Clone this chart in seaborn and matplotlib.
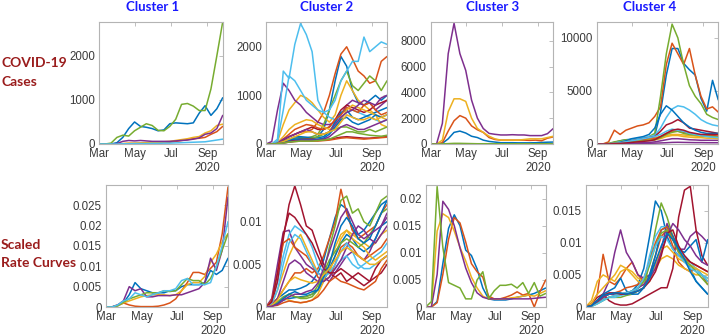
import matplotlib
matplotlib.use('Agg')
import numpy as np
import pandas as pd
import matplotlib.pyplot as plt
import matplotlib.dates as mdates
import seaborn as sns
from matplotlib.transforms import blended_transform_factory

# sample dates: every 10 days from Mar 1 2020
dates = pd.date_range('2020-03-01', periods=22, freq='10D')

cluster_names = ['Cluster 1', 'Cluster 2', 'Cluster 3', 'Cluster 4']
row_names = [['COVID-19', 'Cases'], ['Scaled', 'Rate Curves']]
month_ticks = ['2020-03-01', '2020-05-01', '2020-07-01', '2020-09-01']
month_labels = ['Mar', 'May', 'Jul', 'Sep']

# ---- COVID-19 cases (7-day avg), one list per county, in MATLAB colour order
c1_cases = [
    [0, 0, 0, 30, 150, 350, 500, 400, 380, 350, 300, 320, 460, 480, 470, 460, 480, 700, 870, 650, 800, 1050],
    [0, 0, 0, 0, 5, 10, 10, 15, 20, 25, 30, 35, 40, 60, 80, 100, 120, 130, 150, 220, 280, 400],
    [0, 0, 0, 5, 10, 20, 20, 25, 30, 35, 40, 50, 60, 80, 100, 120, 150, 170, 250, 300, 420, 450],
    [0, 0, 0, 10, 60, 80, 70, 80, 70, 60, 60, 60, 60, 70, 80, 90, 110, 140, 220, 250, 350, 650],
    [0, 0, 20, 150, 200, 180, 300, 380, 460, 420, 310, 300, 400, 560, 900, 920, 860, 760, 760, 1250, 2000, 2770],
    [0, 0, 0, 0, 5, 5, 10, 10, 10, 15, 15, 20, 20, 25, 30, 35, 40, 45, 50, 70, 90, 110],
]
c2_cases = [
    [0, 0, 20, 60, 100, 120, 130, 120, 110, 150, 300, 700, 1300, 1800, 1600, 1100, 850, 800, 900, 1000, 900, 1000],
    [0, 0, 30, 100, 150, 200, 250, 250, 300, 450, 650, 1000, 1450, 1850, 2000, 1750, 1500, 1400, 1250, 1300, 1700, 1800],
    [0, 0, 50, 400, 700, 850, 1000, 950, 850, 700, 550, 450, 600, 1000, 1300, 1100, 900, 800, 700, 600, 550, 500],
    [0, 50, 700, 1250, 1100, 900, 800, 650, 550, 450, 400, 400, 450, 600, 800, 900, 850, 800, 850, 700, 800, 900],
    [0, 0, 10, 40, 80, 100, 120, 120, 150, 200, 400, 700, 1000, 1300, 1500, 1200, 1100, 1250, 1400, 1300, 1100, 1300],
    [0, 0, 100, 1500, 1350, 2050, 2480, 2250, 1900, 900, 650, 550, 500, 550, 650, 700, 650, 600, 550, 500, 450, 500],
    [0, 0, 20, 80, 150, 200, 250, 300, 350, 300, 300, 350, 500, 700, 800, 750, 700, 650, 700, 800, 850, 900],
    [0, 0, 10, 50, 100, 150, 150, 140, 130, 130, 150, 250, 450, 650, 700, 550, 500, 550, 600, 650, 700, 750],
    [0, 0, 20, 100, 200, 300, 350, 400, 380, 330, 300, 350, 500, 600, 750, 700, 650, 800, 850, 700, 600, 650],
    [0, 0, 30, 150, 300, 400, 450, 500, 480, 400, 350, 300, 350, 500, 700, 800, 750, 700, 650, 600, 400, 350],
    [0, 0, 20, 100, 150, 200, 250, 300, 250, 200, 200, 250, 400, 550, 650, 700, 800, 900, 850, 800, 950, 1000],
    [0, 0, 10, 30, 60, 80, 100, 100, 120, 150, 200, 250, 300, 350, 350, 300, 250, 250, 300, 250, 300, 350],
    [0, 0, 50, 700, 1400, 1300, 1100, 900, 800, 700, 650, 700, 900, 1300, 1500, 1700, 1700, 2200, 1900, 2000, 2100, 2050],
    [0, 0, 10, 40, 60, 80, 100, 100, 100, 90, 90, 100, 120, 140, 150, 140, 130, 120, 120, 130, 140, 150],
    [0, 0, 10, 40, 80, 100, 100, 90, 90, 100, 120, 200, 350, 500, 550, 450, 400, 450, 500, 600, 550, 600],
    [0, 0, 5, 20, 40, 50, 60, 60, 60, 60, 70, 80, 100, 120, 130, 120, 110, 100, 110, 120, 130, 140],
    [0, 0, 10, 50, 100, 150, 200, 250, 250, 200, 200, 250, 300, 450, 600, 550, 500, 500, 550, 500, 550, 600],
    [0, 0, 5, 20, 40, 60, 80, 80, 80, 80, 100, 150, 250, 350, 400, 350, 300, 300, 350, 400, 450, 500],
    [0, 0, 5, 20, 40, 50, 60, 60, 60, 70, 80, 100, 150, 200, 250, 250, 220, 200, 180, 170, 160, 180],
]
c3_cases = [
    [0, 0, 50, 400, 900, 1000, 850, 600, 500, 300, 200, 150, 100, 100, 100, 90, 90, 90, 100, 120, 140, 150],
    [0, 0, 100, 1000, 1800, 2200, 2000, 1400, 1100, 900, 500, 350, 300, 300, 300, 300, 300, 280, 300, 250, 450, 550],
    [0, 0, 300, 2500, 3500, 3500, 3300, 2000, 1200, 900, 600, 400, 300, 300, 300, 300, 350, 400, 400, 400, 500, 600],
    [0, 0, 1600, 7000, 9350, 7000, 5700, 3400, 2000, 1200, 820, 750, 700, 700, 720, 700, 700, 650, 650, 650, 800, 1200],
    [0, 0, 10, 30, 50, 50, 40, 30, 20, 20, 20, 20, 20, 20, 20, 20, 20, 20, 20, 20, 20, 20],
]
c4_cases = [
    [0, 0, 30, 150, 300, 400, 450, 500, 550, 600, 800, 3000, 6500, 9000, 9000, 7600, 7000, 6500, 4300, 3100, 6000, 4150],
    [0, 0, 200, 1300, 900, 1300, 1500, 1700, 1800, 2000, 2600, 3500, 7500, 9500, 8500, 7500, 9000, 6500, 4500, 3300, 3500, 3000],
    [0, 0, 20, 100, 200, 300, 400, 450, 500, 550, 600, 700, 800, 900, 900, 850, 800, 750, 700, 700, 650, 650],
    [0, 0, 5, 20, 40, 60, 80, 100, 120, 150, 200, 300, 400, 500, 500, 450, 400, 380, 350, 350, 350, 350],
    [0, 0, 50, 200, 300, 400, 400, 400, 500, 700, 1000, 4500, 8500, 11300, 10000, 7500, 5500, 4500, 3800, 2800, 2500, 2300],
    [0, 0, 20, 100, 200, 300, 400, 500, 600, 700, 800, 1500, 2500, 3300, 3600, 3500, 3200, 2800, 2300, 2000, 1800, 1700],
    [0, 0, 10, 50, 100, 200, 300, 400, 500, 600, 700, 1200, 1800, 2000, 2300, 2000, 1500, 1400, 1300, 1200, 1100, 1000],
    [0, 0, 10, 50, 150, 300, 500, 600, 700, 900, 1500, 2800, 3600, 3200, 2600, 2000, 1600, 1300, 1100, 1000, 1000, 1000],
    [0, 0, 10, 50, 100, 200, 300, 350, 400, 450, 500, 700, 1000, 1200, 1200, 1100, 1000, 900, 850, 800, 800, 750],
    [0, 0, 10, 50, 100, 150, 200, 250, 300, 350, 400, 500, 700, 800, 800, 700, 650, 600, 600, 550, 550, 500],
    [0, 0, 5, 10, 20, 30, 40, 50, 60, 70, 80, 100, 120, 150, 160, 150, 140, 130, 130, 120, 120, 120],
    [0, 0, 10, 50, 100, 150, 200, 250, 300, 350, 400, 600, 900, 1100, 1200, 1000, 900, 850, 800, 750, 700, 650],
    [0, 0, 10, 50, 100, 200, 300, 400, 500, 600, 700, 900, 1200, 1400, 1300, 1200, 1000, 900, 800, 700, 650, 600],
    [0, 0, 10, 30, 60, 100, 150, 200, 250, 300, 400, 700, 1000, 1300, 1400, 1300, 1100, 1000, 900, 900, 900, 900],
]

# ---- scaled rate curves
c1_rates = [
    [0, 0, 0.0003, 0.001, 0.003, 0.006, 0.0045, 0.004, 0.0035, 0.0035, 0.0035, 0.004, 0.004, 0.005, 0.0055, 0.0055, 0.0055, 0.006, 0.009, 0.008, 0.009, 0.012],
    [0, 0, 0.0005, 0.001, 0.0005, 0.0002, 0.0001, 0.0001, 0.0001, 0.0002, 0.0005, 0.001, 0.002, 0.004, 0.006, 0.0085, 0.0085, 0.008, 0.0095, 0.011, 0.018, 0.0295],
    [0, 0, 0.0003, 0.001, 0.0015, 0.002, 0.0025, 0.0028, 0.003, 0.003, 0.003, 0.0028, 0.003, 0.004, 0.0055, 0.006, 0.006, 0.0075, 0.011, 0.013, 0.016, 0.018],
    [0, 0, 0.0005, 0.0015, 0.005, 0.004, 0.0045, 0.0025, 0.0025, 0.0028, 0.0028, 0.0028, 0.003, 0.003, 0.0035, 0.004, 0.0045, 0.006, 0.012, 0.009, 0.014, 0.027],
    [0, 0, 0.0003, 0.0012, 0.002, 0.0025, 0.003, 0.0035, 0.0035, 0.0035, 0.004, 0.0038, 0.004, 0.0055, 0.007, 0.0065, 0.0065, 0.0055, 0.007, 0.010, 0.014, 0.018],
    [0, 0, 0.0005, 0.0015, 0.002, 0.0035, 0.003, 0.0025, 0.003, 0.0035, 0.004, 0.004, 0.0045, 0.0065, 0.007, 0.0055, 0.0055, 0.0055, 0.006, 0.010, 0.015, 0.021],
]
c2_rates = [
    [0, 0.0003, 0.001, 0.0015, 0.002, 0.002, 0.0022, 0.0025, 0.003, 0.004, 0.0055, 0.008, 0.0105, 0.012, 0.0115, 0.009, 0.0085, 0.009, 0.010, 0.011, 0.012, 0.0125],
    [0, 0.0003, 0.001, 0.002, 0.003, 0.004, 0.004, 0.0045, 0.004, 0.0045, 0.006, 0.008, 0.010, 0.0138, 0.011, 0.009, 0.008, 0.0085, 0.009, 0.0095, 0.011, 0.012],
    [0, 0.0003, 0.002, 0.004, 0.006, 0.0075, 0.0085, 0.007, 0.0055, 0.004, 0.0035, 0.004, 0.006, 0.008, 0.009, 0.0085, 0.008, 0.0075, 0.007, 0.0075, 0.0085, 0.009],
    [0, 0.001, 0.005, 0.0088, 0.009, 0.007, 0.006, 0.005, 0.0045, 0.004, 0.0035, 0.003, 0.004, 0.005, 0.006, 0.0065, 0.006, 0.0055, 0.0065, 0.008, 0.0095, 0.011],
    [0, 0.0002, 0.0005, 0.001, 0.0015, 0.0012, 0.001, 0.001, 0.0012, 0.002, 0.004, 0.007, 0.0095, 0.0125, 0.013, 0.011, 0.0115, 0.010, 0.0095, 0.011, 0.0125, 0.013],
    [0, 0.0005, 0.003, 0.006, 0.0085, 0.0095, 0.009, 0.0085, 0.007, 0.005, 0.004, 0.004, 0.0045, 0.0055, 0.006, 0.005, 0.0045, 0.005, 0.0055, 0.006, 0.0065, 0.0075],
    [0, 0.0005, 0.003, 0.008, 0.012, 0.0142, 0.012, 0.0095, 0.009, 0.007, 0.005, 0.004, 0.0035, 0.004, 0.003, 0.0035, 0.004, 0.0035, 0.003, 0.0035, 0.004, 0.005],
    [0, 0.0001, 0.0004, 0.0008, 0.001, 0.0011, 0.0012, 0.0013, 0.0015, 0.002, 0.003, 0.0045, 0.006, 0.0075, 0.0085, 0.008, 0.007, 0.0065, 0.007, 0.008, 0.0095, 0.010],
    [0, 0.0008, 0.004, 0.0075, 0.008, 0.007, 0.0065, 0.006, 0.005, 0.0035, 0.003, 0.0035, 0.005, 0.007, 0.0075, 0.007, 0.006, 0.0055, 0.006, 0.0065, 0.007, 0.008],
    [0, 0.0001, 0.0005, 0.001, 0.0008, 0.0006, 0.0005, 0.0006, 0.0008, 0.0015, 0.003, 0.005, 0.007, 0.0085, 0.009, 0.008, 0.0075, 0.007, 0.006, 0.0055, 0.006, 0.0065],
    [0, 0.0002, 0.001, 0.003, 0.005, 0.0055, 0.005, 0.004, 0.0035, 0.003, 0.003, 0.0035, 0.0045, 0.0055, 0.007, 0.0085, 0.0095, 0.009, 0.008, 0.0075, 0.0085, 0.0095],
    [0, 0.0002, 0.0006, 0.0012, 0.0015, 0.0012, 0.0011, 0.0012, 0.0015, 0.0025, 0.004, 0.0055, 0.0065, 0.0075, 0.008, 0.0075, 0.007, 0.0075, 0.0085, 0.0095, 0.011, 0.0115],
    [0, 0.0004, 0.002, 0.005, 0.0075, 0.0085, 0.008, 0.0065, 0.005, 0.004, 0.0035, 0.004, 0.005, 0.0065, 0.0075, 0.0065, 0.005, 0.0045, 0.0045, 0.005, 0.0055, 0.006],
    [0, 0.0006, 0.004, 0.0085, 0.011, 0.0105, 0.0095, 0.0085, 0.0075, 0.006, 0.0045, 0.004, 0.004, 0.0045, 0.004, 0.0035, 0.003, 0.0025, 0.003, 0.0045, 0.0055, 0.006],
    [0, 0.0001, 0.0004, 0.001, 0.0015, 0.0018, 0.0015, 0.0015, 0.0018, 0.002, 0.0035, 0.005, 0.0075, 0.0095, 0.0105, 0.0095, 0.008, 0.0075, 0.008, 0.0095, 0.011, 0.0125],
    [0, 0.0001, 0.0002, 0.0005, 0.0007, 0.0006, 0.0005, 0.0006, 0.0008, 0.0012, 0.002, 0.003, 0.0035, 0.003, 0.0028, 0.0025, 0.0022, 0.002, 0.0025, 0.003, 0.0045, 0.0055],
    [0, 0.0002, 0.0008, 0.002, 0.003, 0.0035, 0.0032, 0.003, 0.0028, 0.003, 0.0038, 0.0045, 0.0055, 0.0065, 0.007, 0.0065, 0.006, 0.0055, 0.005, 0.005, 0.0055, 0.006],
    [0, 0.0001, 0.0003, 0.0008, 0.0012, 0.0015, 0.0015, 0.0018, 0.002, 0.0028, 0.0045, 0.0065, 0.0085, 0.0105, 0.0115, 0.010, 0.0085, 0.008, 0.0085, 0.009, 0.0095, 0.0105],
]
c3_rates = [
    [0, 0, 0.001, 0.008, 0.0145, 0.017, 0.015, 0.0105, 0.0095, 0.007, 0.0035, 0.0015, 0.0013, 0.0013, 0.0013, 0.0015, 0.0018, 0.002, 0.0022, 0.0025, 0.003, 0.0035],
    [0, 0, 0.0008, 0.006, 0.0125, 0.0165, 0.0155, 0.012, 0.008, 0.0065, 0.0055, 0.002, 0.0015, 0.0015, 0.0018, 0.0022, 0.0028, 0.0022, 0.0025, 0.0, 0.0028, 0.005],
    [0, 0, 0.014, 0.0172, 0.0165, 0.014, 0.011, 0.0085, 0.0055, 0.0035, 0.002, 0.0015, 0.0015, 0.0015, 0.0015, 0.0017, 0.0018, 0.002, 0.0022, 0.002, 0.0025, 0.003],
    [0, 0, 0.006, 0.0195, 0.018, 0.015, 0.0109, 0.0072, 0.0045, 0.0026, 0.0018, 0.0015, 0.0015, 0.0015, 0.0015, 0.0015, 0.0015, 0.0015, 0.0015, 0.0016, 0.0017, 0.0018],
    [0, 0.001, 0.0222, 0.011, 0.0045, 0.004, 0.0035, 0.0015, 0.0015, 0.005, 0.0065, 0.0015, 0.003, 0.004, 0.004, 0.0042, 0.0035, 0.0045, 0.0025, 0.0045, 0.002, 0.0025],
]
c4_rates = [
    [0, 0.0003, 0.001, 0.0015, 0.002, 0.002, 0.002, 0.002, 0.0025, 0.0035, 0.006, 0.011, 0.0165, 0.015, 0.011, 0.009, 0.008, 0.0075, 0.006, 0.004, 0.003, 0.002],
    [0, 0.0005, 0.002, 0.0082, 0.004, 0.0035, 0.0045, 0.006, 0.007, 0.005, 0.004, 0.005, 0.008, 0.011, 0.012, 0.0095, 0.007, 0.006, 0.0055, 0.006, 0.005, 0.0035],
    [0, 0.001, 0.004, 0.005, 0.0045, 0.004, 0.0055, 0.006, 0.0055, 0.0045, 0.004, 0.005, 0.006, 0.0075, 0.008, 0.0075, 0.0065, 0.006, 0.0055, 0.005, 0.005, 0.0045],
    [0, 0.0003, 0.001, 0.002, 0.004, 0.0085, 0.012, 0.0085, 0.007, 0.005, 0.0045, 0.005, 0.007, 0.009, 0.013, 0.011, 0.009, 0.009, 0.011, 0.0118, 0.011, 0.010],
    [0, 0.0002, 0.0008, 0.0012, 0.0015, 0.0015, 0.0015, 0.0018, 0.002, 0.0025, 0.003, 0.007, 0.012, 0.0162, 0.014, 0.011, 0.009, 0.007, 0.0065, 0.006, 0.005, 0.004],
    [0, 0.0002, 0.0008, 0.0012, 0.0015, 0.0015, 0.0018, 0.002, 0.0022, 0.0028, 0.004, 0.008, 0.011, 0.0125, 0.0125, 0.0105, 0.009, 0.008, 0.007, 0.006, 0.005, 0.004],
    [0, 0.0005, 0.0015, 0.002, 0.001, 0.0005, 0.0003, 0.0003, 0.0005, 0.001, 0.0015, 0.002, 0.0025, 0.003, 0.003, 0.006, 0.014, 0.0182, 0.0188, 0.012, 0.008, 0.0065],
    [0, 0.0003, 0.001, 0.002, 0.0025, 0.003, 0.0045, 0.0025, 0.002, 0.002, 0.003, 0.005, 0.008, 0.012, 0.0125, 0.011, 0.009, 0.0085, 0.0095, 0.0105, 0.007, 0.0105],
    [0, 0.0002, 0.0008, 0.0015, 0.002, 0.0022, 0.0025, 0.003, 0.0032, 0.0035, 0.0045, 0.007, 0.010, 0.012, 0.0125, 0.0105, 0.0085, 0.0075, 0.007, 0.0065, 0.006, 0.0055],
    [0, 0.0005, 0.002, 0.003, 0.004, 0.005, 0.0065, 0.006, 0.005, 0.004, 0.0035, 0.004, 0.0065, 0.009, 0.0095, 0.0085, 0.0075, 0.007, 0.0065, 0.006, 0.0055, 0.005],
    [0, 0.0002, 0.0008, 0.0015, 0.002, 0.002, 0.002, 0.0022, 0.0025, 0.003, 0.0035, 0.0045, 0.006, 0.0085, 0.011, 0.013, 0.012, 0.0105, 0.0095, 0.008, 0.007, 0.0065],
    [0, 0.0001, 0.0005, 0.001, 0.0015, 0.0018, 0.002, 0.0022, 0.0025, 0.003, 0.004, 0.0065, 0.0095, 0.0115, 0.012, 0.0105, 0.0085, 0.0075, 0.0065, 0.0055, 0.0045, 0.0035],
    [0, 0.0001, 0.0005, 0.001, 0.0015, 0.0018, 0.002, 0.0022, 0.0025, 0.003, 0.0045, 0.007, 0.0095, 0.011, 0.0105, 0.009, 0.008, 0.007, 0.006, 0.0055, 0.005, 0.0045],
    [0, 0.0002, 0.001, 0.0018, 0.0022, 0.0022, 0.002, 0.002, 0.0022, 0.0025, 0.003, 0.004, 0.0055, 0.008, 0.0115, 0.012, 0.0095, 0.008, 0.007, 0.0065, 0.006, 0.0055],
    [0, 0.0002, 0.001, 0.0018, 0.002, 0.0022, 0.0022, 0.002, 0.0022, 0.0025, 0.003, 0.0045, 0.007, 0.0095, 0.0115, 0.0105, 0.009, 0.0075, 0.0055, 0.004, 0.003, 0.002],
]

case_panels = [c1_cases, c2_cases, c3_cases, c4_cases]
rate_panels = [c1_rates, c2_rates, c3_rates, c4_rates]
case_ylim = [2770, 2510, 9450, 11500]
case_yticks = [[0, 1000, 2000], [0, 1000, 2000], [0, 2000, 4000, 6000, 8000], [0, 5000, 10000]]
rate_ylim = [0.0300, 0.0143, 0.0225, 0.0190]
rate_yticks = [[0, 0.005, 0.01, 0.015, 0.02, 0.025], [0, 0.005, 0.01],
               [0, 0.005, 0.01, 0.015, 0.02], [0, 0.005, 0.01, 0.015]]

matlab_colors = ['#0072BD', '#D95319', '#EDB120', '#7E2F8E', '#77AC30', '#4DBEEE', '#A2142F']

sns.set_theme(style='white')
plt.rcParams['font.family'] = ['Liberation Sans', 'DejaVu Sans']

W, H = 720, 336
fig = plt.figure(figsize=(W / 100, H / 100), dpi=100)

# axes boxes in pixels: (left, right) per column, (top, bottom) per row
row_boxes = [
    [(99.3, 222.7), (266, 387), (430.7, 553.3), (597, 718.3)],
    [(106, 228), (266, 387), (425.7, 545.7), (585.7, 707.7)],
]
row_y = [(22, 144), (185, 307)]


def long_frame(series_list):
    rows = []
    for i, vals in enumerate(series_list):
        assert len(vals) == len(dates)
        for d, v in zip(dates, vals):
            rows.append((d, v, f's{i:02d}'))
    return pd.DataFrame(rows, columns=['date', 'value', 'series'])


frame_col = '#b4b4b4'
tick_col = '#3a3a3a'
sep_num = mdates.date2num(pd.Timestamp('2020-09-01'))

for r, (panels, ylims, yticks) in enumerate([(case_panels, case_ylim, case_yticks),
                                              (rate_panels, rate_ylim, rate_yticks)]):
    top, bot = row_y[r]
    for c in range(4):
        left, right = row_boxes[r][c]
        ax = fig.add_axes([left / W, 1 - bot / H, (right - left) / W, (bot - top) / H])
        df = long_frame(panels[c])
        levels = sorted(df['series'].unique())
        pal = [matlab_colors[i % 7] for i in range(len(levels))]
        sns.lineplot(data=df, x='date', y='value', hue='series', hue_order=levels,
                     palette=pal, estimator=None, legend=False, linewidth=1.1, ax=ax)
        ax.set_xlim(dates[0], dates[-1])
        ax.set_ylim(0, ylims[c])
        ax.set_xticks(pd.to_datetime(month_ticks))
        ax.set_xticklabels(month_labels)
        ax.set_yticks(yticks[c])
        ax.set_yticklabels([f'{v:g}' for v in yticks[c]])
        ax.set_xlabel('')
        ax.set_ylabel('')
        ax.tick_params(direction='in', length=3, width=0.6, top=True, right=True,
                       color=frame_col, labelcolor=tick_col, labelsize=8.3, pad=3)
        for sp in ax.spines.values():
            sp.set_color(frame_col)
            sp.set_linewidth(0.8)
        trans = blended_transform_factory(ax.transData, ax.transAxes)
        ax.annotate('2020', xy=(sep_num, 0), xycoords=trans,
                    xytext=(0, -17.5), textcoords='offset points', ha='center', va='center',
                    fontsize=8.3, color=tick_col)

# column titles
title_x = [153, 327, 493, 650]
for name, x in zip(cluster_names, title_x):
    fig.text(x / W, 1 - 7 / H, name, ha='center', va='center', fontsize=9.5,
             fontweight='bold', color='#1a1aff', family=['Lato', 'DejaVu Sans'])

# row labels
row_label_y = [(63, 82), (245, 263)]
for lines, ys in zip(row_names, row_label_y):
    for txt, y in zip(lines, ys):
        fig.text(1 / W, 1 - y / H, txt, ha='left', va='center', fontsize=10,
                 fontweight='bold', color='#9a1c1c', family=['Lato', 'DejaVu Sans'])

fig.savefig('out.png', dpi=100)
